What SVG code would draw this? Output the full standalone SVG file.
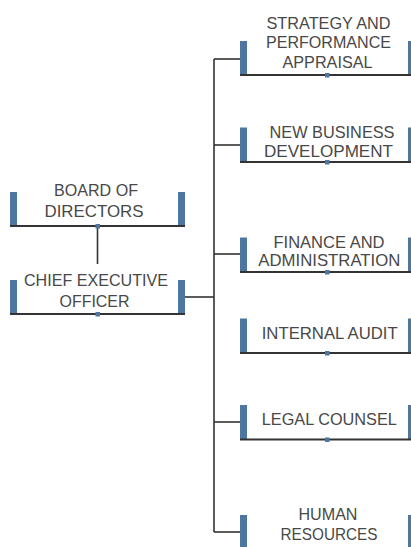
<svg xmlns="http://www.w3.org/2000/svg" width="411" height="547" viewBox="0 0 411 547">
<style>
.bar{fill:#4d77a0}
.sq{fill:#4d77a0}
.base{stroke:#333;stroke-width:2;fill:none}
.con{stroke:#333;stroke-width:1.6;fill:none}
text{font-family:"Liberation Sans",Arial,sans-serif;font-size:17px;fill:#484848;text-anchor:middle}
</style>
<rect width="411" height="547" fill="#fff"/>
<g id="connectors">
<line class="con" x1="97.5" y1="227" x2="97.5" y2="264"/>
<line class="con" x1="185" y1="297" x2="214" y2="297"/>
<line class="con" x1="214" y1="59" x2="214" y2="532"/>
<line class="con" x1="214" y1="59" x2="240" y2="59"/>
<line class="con" x1="214" y1="145" x2="240" y2="145"/>
<line class="con" x1="214" y1="254" x2="240" y2="254"/>
<line class="con" x1="214" y1="422" x2="240" y2="422"/>
<line class="con" x1="214" y1="532" x2="240" y2="532"/>
</g>
<g id="board">
<rect class="bar" x="10" y="192" width="7" height="34"/>
<rect class="bar" x="178" y="192" width="7" height="34"/>
<line class="base" x1="10" y1="226" x2="185" y2="226"/>
<rect class="sq" x="95.5" y="224" width="4.5" height="4.5"/>
<text x="96" y="195.5" textLength="84" lengthAdjust="spacingAndGlyphs">BOARD OF</text>
<text x="94" y="216.5" textLength="99" lengthAdjust="spacingAndGlyphs">DIRECTORS</text>
</g>
<g id="ceo">
<rect class="bar" x="10" y="280" width="7" height="34"/>
<rect class="bar" x="178" y="280" width="7" height="34"/>
<line class="base" x1="10" y1="314" x2="185" y2="314"/>
<rect class="sq" x="95.5" y="312" width="4.5" height="4.5"/>
<text x="96" y="285.7" textLength="144" lengthAdjust="spacingAndGlyphs">CHIEF EXECUTIVE</text>
<text x="94.5" y="306.7" textLength="70" lengthAdjust="spacingAndGlyphs">OFFICER</text>
</g>
<g id="strategy">
<rect class="bar" x="240" y="41" width="7" height="34"/>
<rect class="bar" x="408" y="41" width="7" height="34"/>
<line class="base" x1="240" y1="75" x2="411" y2="75"/>
<rect class="sq" x="325" y="73" width="4.5" height="4.5"/>
<text x="328.5" y="29" textLength="124" lengthAdjust="spacingAndGlyphs">STRATEGY AND</text>
<text x="328.5" y="48" textLength="125" lengthAdjust="spacingAndGlyphs">PERFORMANCE</text>
<text x="327.5" y="67.7" textLength="90" lengthAdjust="spacingAndGlyphs">APPRAISAL</text>
</g>
<g id="newbusiness">
<rect class="bar" x="240" y="127.5" width="7" height="34.5"/>
<rect class="bar" x="408" y="127.5" width="7" height="34.5"/>
<line class="base" x1="240" y1="162" x2="411" y2="162"/>
<rect class="sq" x="325" y="160" width="4.5" height="4.5"/>
<text x="332" y="137.7" textLength="125" lengthAdjust="spacingAndGlyphs">NEW BUSINESS</text>
<text x="328.5" y="156.7" textLength="129" lengthAdjust="spacingAndGlyphs">DEVELOPMENT</text>
</g>
<g id="finance">
<rect class="bar" x="240" y="237.5" width="7" height="34.5"/>
<rect class="bar" x="408" y="237.5" width="7" height="34.5"/>
<line class="base" x1="240" y1="272" x2="411" y2="272"/>
<rect class="sq" x="325" y="270" width="4.5" height="4.5"/>
<text x="329" y="247.7" textLength="111" lengthAdjust="spacingAndGlyphs">FINANCE AND</text>
<text x="329.3" y="265.7" textLength="142" lengthAdjust="spacingAndGlyphs">ADMINISTRATION</text>
</g>
<g id="audit">
<rect class="bar" x="240" y="318.5" width="7" height="34.5"/>
<rect class="bar" x="408" y="318.5" width="7" height="34.5"/>
<line class="base" x1="240" y1="353" x2="411" y2="353"/>
<rect class="sq" x="325" y="351" width="4.5" height="4.5"/>
<text x="329.7" y="338.7" textLength="136" lengthAdjust="spacingAndGlyphs">INTERNAL AUDIT</text>
</g>
<g id="legal">
<rect class="bar" x="240" y="405" width="7" height="34.5"/>
<rect class="bar" x="408" y="405" width="7" height="34.5"/>
<line class="base" x1="240" y1="439.5" x2="411" y2="439.5"/>
<rect class="sq" x="325" y="437.5" width="4.5" height="4.5"/>
<text x="329.3" y="425.3" textLength="135" lengthAdjust="spacingAndGlyphs">LEGAL COUNSEL</text>
</g>
<g id="hr">
<rect class="bar" x="240" y="515" width="7" height="34"/>
<rect class="bar" x="408" y="515" width="7" height="34"/>
<text x="328" y="520" textLength="59" lengthAdjust="spacingAndGlyphs">HUMAN</text>
<text x="329" y="540" textLength="97" lengthAdjust="spacingAndGlyphs">RESOURCES</text>
</g>
</svg>
